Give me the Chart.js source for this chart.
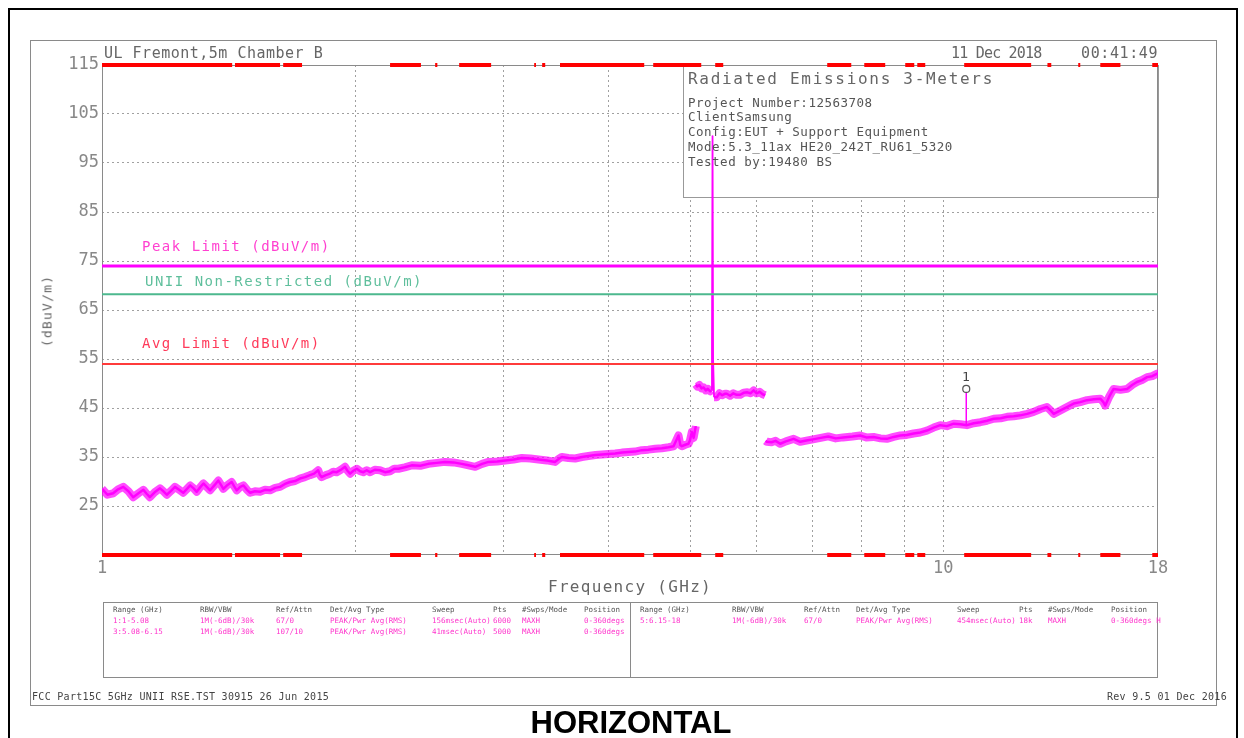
<!DOCTYPE html>
<html>
<head>
<meta charset="utf-8">
<script src="https://cdn.jsdelivr.net/npm/chart.js@4.4.1/dist/chart.umd.min.js"></script>
<style>
  html, body { margin:0; padding:0; background:#fff; width:1244px; height:738px; overflow:hidden; }
  #wrap { position:relative; width:1244px; height:738px; }
  canvas { position:absolute; left:0; top:0; z-index:2; }
  .frame { position:absolute; box-sizing:border-box; z-index:1; }
  .t { position:absolute; white-space:pre; font-family:'DejaVu Sans Mono', monospace; z-index:3; color:#666; }
  .tb { position:absolute; white-space:pre; font-family:'DejaVu Sans Mono', monospace; font-size:7.5px; line-height:8px; z-index:3; }
</style>
</head>
<body>
<div id="wrap">
  <div class="frame" style="left:8px;top:8px;width:1230px;height:760px;border:2px solid #000;"></div>
  <div class="frame" style="left:30px;top:40px;width:1187px;height:666px;border:1px solid #8a8a8a;"></div>
  <div class="frame" style="left:103px;top:602px;width:1055px;height:76px;border:1px solid #8a8a8a;background:#fff;"></div>
  <div class="frame" style="left:630px;top:602px;width:1px;height:76px;background:#8a8a8a;"></div>
  <canvas id="c" width="1244" height="738"></canvas>
  <div id="texts"></div>
</div>
<script>
// ---------------- DATA ----------------
const xGridTicks = [1, 2, 3, 4, 5, 6, 7, 8, 9, 10, 18];
const xLabelTicks = [1, 10, 18];
const yMin = 15, yMax = 115, yStep = 10;

const peakLimit = 74;          // Peak Limit (dBuV/m)
const uniiLimit = 68.2;        // UNII Non-Restricted (dBuV/m)
const avgLimit = 54;           // Avg Limit (dBuV/m)

// Range 1: 1 - 5.08 GHz  [GHz, dBuV/m]
const seg1 = [
  [1.000,28.5],[1.004,28.2],[1.015,27.3],[1.031,27.6],[1.045,28.4],[1.060,28.9],[1.075,28.0],[1.089,26.8],[1.105,27.6],[1.120,28.3],
  [1.130,27.5],[1.140,26.8],[1.155,27.8],[1.172,28.6],[1.183,28.0],[1.194,27.3],[1.208,28.1],[1.221,28.9],[1.235,28.3],[1.249,27.7],
  [1.262,28.5],[1.273,29.2],[1.285,28.6],[1.296,27.9],[1.308,28.8],[1.320,29.6],[1.332,28.9],[1.344,28.2],[1.360,29.2],[1.375,30.2],
  [1.385,29.3],[1.394,28.5],[1.410,29.3],[1.426,29.9],[1.436,29.0],[1.446,28.2],[1.460,28.9],[1.473,29.2],[1.487,28.3],[1.500,27.7],
  [1.520,28.0],[1.541,27.9],[1.562,28.3],[1.584,28.2],[1.606,28.7],[1.628,28.9],[1.650,29.5],[1.673,29.9],[1.696,30.1],[1.719,30.6],
  [1.743,30.9],[1.767,31.3],[1.787,31.6],[1.807,32.3],[1.815,31.4],[1.824,30.9],[1.845,31.3],[1.866,31.6],[1.883,32.0],[1.901,31.9],
  [1.923,32.4],[1.945,33.0],[1.958,32.2],[1.972,31.6],[1.990,32.2],[2.009,32.6],[2.027,32.1],[2.045,31.9],[2.064,32.3],[2.083,31.9],
  [2.110,32.4],[2.140,32.3],[2.170,31.9],[2.200,32.1],[2.225,32.6],[2.251,32.6],[2.290,32.9],[2.334,33.3],[2.390,33.2],[2.443,33.6],
  [2.500,33.8],[2.557,34.0],[2.617,33.9],[2.677,33.6],[2.727,33.3],[2.777,33.0],[2.830,33.6],[2.880,34.0],[2.950,34.1],[3.015,34.3],
  [3.085,34.5],[3.155,34.8],[3.230,34.7],[3.302,34.5],[3.380,34.3],[3.456,34.0],[3.490,34.6],[3.520,35.0],[3.585,34.8],[3.651,34.7],
  [3.720,35.0],[3.786,35.2],[3.860,35.4],[3.929,35.5],[4.000,35.6],[4.074,35.7],[4.150,35.9],[4.225,36.0],[4.300,36.1],[4.382,36.4],
  [4.460,36.5],[4.546,36.7],[4.630,36.8],[4.714,37.0],[4.780,37.2],[4.845,39.4],[4.870,37.4],[4.890,37.2],[4.935,37.5],[4.979,37.7],
  [5.000,38.4],[5.025,40.1],[5.050,38.9],[5.080,41.3]
];
// Range 3: 5.08 - 6.15 GHz
const seg2 = [
  [5.080,49.8],[5.100,49.4],[5.130,49.7],[5.160,49.0],[5.190,49.2],[5.220,48.6],[5.250,48.9],[5.284,48.4],[5.300,48.6],[5.310,56.0],
  [5.318,100.5],[5.326,55.0],[5.340,47.2],[5.380,47.2],[5.420,48.0],[5.460,47.6],[5.500,47.9],[5.530,47.9],[5.580,47.5],[5.630,48.0],
  [5.680,47.7],[5.737,47.7],[5.790,48.1],[5.850,48.2],[5.900,48.0],[5.951,48.6],[6.000,48.0],[6.050,48.3],[6.100,47.8],[6.143,47.6]
];
// Range 5: 6.15 - 18 GHz
const seg3 = [
  [6.150,38.3],[6.170,38.1],[6.250,38.0],[6.320,38.3],[6.400,37.7],[6.500,38.2],[6.640,38.7],[6.760,38.1],[6.900,38.4],[7.000,38.6],
  [7.150,38.9],[7.300,39.2],[7.450,38.8],[7.600,39.0],[7.800,39.2],[7.965,39.4],[8.100,39.0],[8.263,39.1],[8.420,38.8],[8.570,38.7],
  [8.730,39.1],[8.889,39.4],[9.050,39.5],[9.220,39.8],[9.390,40.0],[9.563,40.4],[9.740,41.0],[9.918,41.5],[10.10,41.3],[10.29,41.8],
  [10.48,41.7],[10.67,41.5],[10.87,41.9],[11.07,42.1],[11.27,42.4],[11.48,42.8],[11.70,42.9],[11.91,43.2],[12.13,43.3],[12.35,43.5],
  [12.58,43.8],[12.81,44.2],[13.05,44.8],[13.28,45.2],[13.40,44.6],[13.53,43.8],[13.78,44.5],[14.03,45.2],[14.29,45.9],[14.55,46.2],
  [14.82,46.6],[15.10,46.8],[15.37,46.9],[15.50,46.2],[15.58,45.5],[15.75,47.3],[15.94,48.9],[16.24,48.7],[16.54,48.9],[16.77,49.7],
  [16.99,50.3],[17.23,50.7],[17.47,51.3],[17.72,51.5],[17.96,52.0],[18.00,51.8]
];

// Marker 1
const markerFreq = 10.65;
const markerBase = 41.6;
const markerLevel = 48.9;

// red band segments along top & bottom edges [start GHz, end GHz]
const edgeBars = [
  [1.0,1.428],[1.439,1.628],[1.642,1.729],[2.200,2.394],[2.489,2.504],[2.658,2.901],[3.264,3.280],[3.336,3.364],
  [3.503,4.411],[4.521,5.156],[5.357,5.476],[7.279,7.774],[8.056,8.531],[9.012,9.237],[9.314,9.519],
  [10.59,12.72],[13.30,13.44],[14.47,14.55],[15.37,16.24],[17.72,18.0]
];

// settings table
const tableHeaders = ["Range (GHz)","RBW/VBW","Ref/Attn","Det/Avg Type","Sweep","Pts","#Swps/Mode","Position"];
const tableRowsLeft = [
  ["1:1-5.08","1M(-6dB)/30k","67/0","PEAK/Pwr Avg(RMS)","156msec(Auto)","6000","MAXH","0-360degs"],
  ["3:5.08-6.15","1M(-6dB)/30k","107/10","PEAK/Pwr Avg(RMS)","41msec(Auto)","5000","MAXH","0-360degs"]
];
const tableRowsRight = [
  ["5:6.15-18","1M(-6dB)/30k","67/0","PEAK/Pwr Avg(RMS)","454msec(Auto)","18k","MAXH","0-360degs H"]
];
const infoLines = ["Project Number:12563708","ClientSamsung","Config:EUT + Support Equipment","Mode:5.3_11ax HE20_242T_RU61_5320","Tested by:19480 BS"];

// ---------------- BUILD ----------------
function toPts(seg){ return seg.map(p => ({x:p[0], y:p[1]})); }
const traceData = [].concat(
  toPts(seg1), [{x:5.08, y:null}],
  toPts(seg2), [{x:6.15, y:null}],
  toPts(seg3)
);
function barData(level){
  const out = [];
  edgeBars.forEach(r => { out.push({x:r[0], y:level}, {x:r[1], y:level}, {x:r[1], y:null}); });
  return out;
}
function hLine(v){ return [{x:1, y:v}, {x:18, y:v}]; }

const framePlugin = {
  id: 'framePlugin',
  beforeDatasetsDraw(chart){
    const ca = chart.chartArea, ctx = chart.ctx;
    ctx.save();
    ctx.setLineDash([]);
    ctx.fillStyle = '#fff';
    ctx.fillRect(683, ca.top, ca.right - 683, 197 - ca.top);
    ctx.strokeStyle = '#999';
    ctx.lineWidth = 1;
    ctx.strokeRect(683.5, ca.top + 0.5, ca.right - 683, 197 - ca.top);
    ctx.strokeStyle = '#8a8a8a';
    ctx.strokeRect(ca.left + 0.5, ca.top + 0.5, ca.width - 1, ca.height - 1);
    ctx.restore();
  }
};

const tickFont = {family:'DejaVu Sans Mono', size:17};
const gridCol = '#a0a0a0';
const steep = (c) => Math.abs(c.p1.parsed.y - c.p0.parsed.y) > 6;

new Chart(document.getElementById('c'), {
  type: 'line',
  data: {
    datasets: [
      { data: hLine(peakLimit), borderColor:'#ff00ff', borderWidth:3, pointRadius:0 },
      { data: hLine(uniiLimit), borderColor:'#4db88e', borderWidth:2, pointRadius:0 },
      { data: hLine(avgLimit), borderColor:'#ff3b3b', borderWidth:2, pointRadius:0 },
      { data: toPts([[markerFreq, markerBase],[markerFreq, markerLevel]]), borderColor:'#ff00ff', borderWidth:1.5,
        pointRadius:[0,3.5], pointBackgroundColor:'#fff', pointBorderColor:'#555', pointBorderWidth:1.2 },
      // noise band (same trace, wide and translucent)
      { data: traceData, borderColor:'rgba(255,0,255,0.7)', borderWidth:8, pointRadius:0, spanGaps:false,
        borderJoinStyle:'round', borderCapStyle:'butt',
        segment:{ borderColor:(c) => steep(c) ? 'rgba(0,0,0,0)' : undefined } },
      // trace core
      { data: traceData, borderColor:'#ff00ff', borderWidth:2.5, pointRadius:0, spanGaps:false, tension:0,
        borderJoinStyle:'round',
        segment:{ borderWidth:(c) => steep(c) ? 1.8 : undefined } },
      { data: barData(yMax), borderColor:'#ff0000', borderWidth:4, pointRadius:0, spanGaps:false, clip:false },
      { data: barData(yMin), borderColor:'#ff0000', borderWidth:4, pointRadius:0, spanGaps:false, clip:false }
    ]
  },
  options: {
    responsive:false,
    devicePixelRatio:1,
    animation:false,
    events:[],
    layout:{ padding:{ left:42, right:86, top:65, bottom:153 } },
    plugins:{ legend:{display:false}, tooltip:{enabled:false} },
    scales:{
      x:{
        type:'logarithmic', min:1, max:18,
        afterBuildTicks(scale){ scale.ticks = xGridTicks.map(v => ({value:v})); },
        afterFit(scale){ scale.height = 30; },
        ticks:{ autoSkip:false, maxRotation:0, padding:3, font:tickFont, color:'#888',
          callback:(v) => xLabelTicks.includes(v) ? String(v) : '' },
        grid:{ drawTicks:false, lineWidth:1,
          color:(c) => (c.tick && (c.tick.value === 1 || c.tick.value === 18)) ? 'rgba(0,0,0,0)' : gridCol },
        border:{ display:false, dash:[2,3] }
      },
      y:{
        type:'linear', min:yMin, max:yMax,
        afterFit(scale){ scale.width = 60; },
        ticks:{ stepSize:yStep, padding:3, font:tickFont, color:'#888',
          callback:(v) => v === yMin ? '' : String(v) },
        grid:{ drawTicks:false, lineWidth:1,
          color:(c) => (c.tick && (c.tick.value === yMin || c.tick.value === yMax)) ? 'rgba(0,0,0,0)' : gridCol },
        border:{ display:false, dash:[2,3] }
      }
    }
  },
  plugins:[framePlugin]
});

// ---------------- TEXT OVERLAYS ----------------
const T = document.getElementById('texts');
function txt(s, x, cy, size, color, extra){
  const d = document.createElement('div');
  d.className = 't';
  d.textContent = s;
  d.style.left = x + 'px';
  d.style.top = (cy - size/2) + 'px';
  d.style.fontSize = size + 'px';
  d.style.lineHeight = size + 'px';
  if (color) d.style.color = color;
  if (extra) Object.assign(d.style, extra);
  T.appendChild(d);
  return d;
}
txt('UL Fremont,5m Chamber B', 104, 53, 15, '#666', {letterSpacing:'0.5px'});
txt('11 Dec 2018', 951, 53, 15, '#666', {letterSpacing:'-0.8px'});
txt('00:41:49', 1081, 53, 15, '#666', {letterSpacing:'0.6px'});

txt('Radiated Emissions 3-Meters', 688, 79, 16, '#666', {letterSpacing:'1.7px'});
infoLines.forEach((s, i) => txt(s, 688, 103 + i * 14.7, 12.5, '#555', {letterSpacing:'0.5px'}));

txt('Peak Limit (dBuV/m)', 142, 246, 14, '#ff40d0', {letterSpacing:'1.5px'});
txt('UNII Non-Restricted (dBuV/m)', 145, 281, 14, '#5fbf9c', {letterSpacing:'1.5px'});
txt('Avg Limit (dBuV/m)', 142, 343, 14, '#ff3a5a', {letterSpacing:'1.5px'});

const yt = txt('(dBuV/m)', 0, 0, 13, '#666', {letterSpacing:'1.2px'});
yt.style.left = '47px'; yt.style.top = '311px';
yt.style.transform = 'translate(-50%,-50%) rotate(-90deg)';

const xt = txt('Frequency (GHz)', 0, 587, 16, '#666', {letterSpacing:'1.3px'});
xt.style.left = '630px'; xt.style.transform = 'translateX(-50%)';

const mk = txt('1', 0, 376, 13, '#444');
mk.style.left = '966px'; mk.style.transform = 'translateX(-50%)';

// table
const colLeft = [113, 200, 276, 330, 432, 493, 522, 584];
const colRight = [640, 732, 804, 856, 957, 1019, 1048, 1111];
function tb(s, x, top, color){
  const d = document.createElement('div');
  d.className = 'tb';
  d.textContent = s;
  d.style.left = x + 'px';
  d.style.top = top + 'px';
  d.style.color = color;
  T.appendChild(d);
}
tableHeaders.forEach((h, i) => { tb(h, colLeft[i], 606, '#555'); tb(h, colRight[i], 606, '#555'); });
tableRowsLeft.forEach((row, r) => row.forEach((s, i) => tb(s, colLeft[i], 617 + r * 11, '#ff33cc')));
tableRowsRight.forEach((row, r) => row.forEach((s, i) => tb(s, colRight[i], 617 + r * 11, '#ff33cc')));

txt('FCC Part15C 5GHz UNII RSE.TST 30915 26 Jun 2015', 32, 697, 10, '#444', {letterSpacing:'0.3px'});
const rv = txt('Rev 9.5 01 Dec 2016', 0, 697, 10, '#444', {letterSpacing:'0.3px'});
rv.style.left = 'auto'; rv.style.right = (1244 - 1227) + 'px';

const hz = txt('HORIZONTAL', 0, 722, 31, '#000', {fontFamily:'"Liberation Sans", Arial, sans-serif', fontWeight:'bold'});
hz.style.left = '631px'; hz.style.transform = 'translateX(-50%)';
</script>
</body>
</html>
